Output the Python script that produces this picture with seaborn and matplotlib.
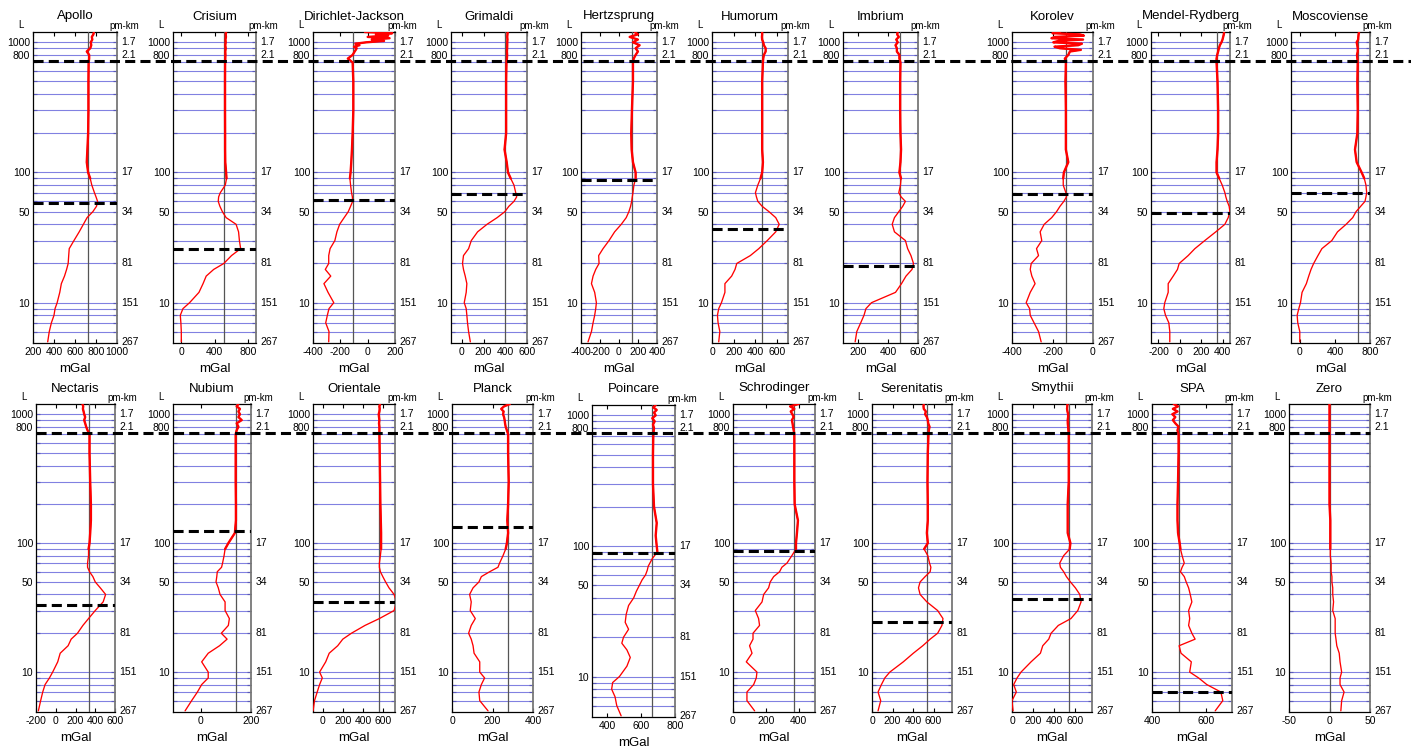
import matplotlib
matplotlib.use("Agg")
import matplotlib.pyplot as plt
import seaborn as sns
from matplotlib.lines import Line2D
from matplotlib.ticker import FixedLocator, NullFormatter, FixedFormatter
from matplotlib.transforms import blended_transform_factory

# ---------------------------------------------------------------- data
# spherical-harmonic degree at which every profile is sampled
degree = [5, 6, 7, 8, 9, 10, 12, 14, 16, 18, 20, 23, 26, 30, 35, 40, 45, 50, 55, 60, 65, 70,
          80, 90, 100, 120, 150, 200, 300, 500, 700, 750, 800, 850, 900, 950, 1000, 1050,
          1100, 1150, 1200]

apollo = [340, 355, 375, 400, 410, 430, 455, 470, 500, 520, 535, 540, 545, 590, 640, 680, 715,
          770, 805, 815, 800, 785, 760, 745, 725, 712, 718, 725, 728, 728, 730, 735, 735, 712,
          745, 755, 750, 765, 760, 775, 780]
crisium = [0, 0, -5, -12, 20, 100, 213, 262, 300, 390, 512, 605, 715, 700, 690, 660, 540, 495,
           465, 445, 450, 470, 530, 545, 540, 530, 528, 528, 527, 527, 528, 530, 532, 530, 535,
           530, 535, 532, 538, 535, 540]
dirichlet_jackson = [-285, -283, -307, -295, -283, -248, -290, -320, -270, -310, -285, -285,
                     -275, -240, -225, -205, -172, -142, -125, -110, -112, -118, -125, -130,
                     -125, -120, -115, -110, -105, -105, -110, -145, -110, -95, -80, -60, -10,
                     30, 0, 60, -20]
grimaldi = [78, 62, 52, 46, 40, 22, 40, 46, 31, 15, 6, 15, 62, 87, 145, 232, 325, 396, 433, 480,
            505, 496, 480, 450, 425, 413, 393, 408, 408, 408, 411, 415, 417, 415, 417, 418, 418,
            420, 418, 420, 422]
hertzsprung = [-326, -290, -273, -256, -245, -238, -256, -290, -273, -245, -210, -214, -168,
               -105, -46, 24, 76, 104, 122, 133, 140, 147, 157, 175, 175, 147, 133, 129, 136,
               147, 147, 155, 175, 199, 175, 217, 147, 199, 112, 199, 164]
humorum = [62, 72, 56, 50, 62, 87, 119, 119, 181, 212, 228, 353, 431, 509, 587, 619, 587, 525,
           462, 422, 409, 400, 422, 447, 462, 469, 462, 462, 462, 462, 469, 472, 478, 494, 494,
           478, 472, 462, 460, 462, 462]
imbrium = [181, 192, 218, 240, 253, 290, 450, 490, 520, 560, 570, 553, 531, 516, 443, 428, 443,
           472, 498, 516, 487, 472, 483, 487, 476, 483, 487, 483, 481, 481, 483, 476, 476, 459,
           459, 450, 465, 455, 472, 461, 465]
korolev = [-256, -269, -291, -310, -313, -330, -310, -286, -302, -310, -305, -269, -279, -253,
           -261, -241, -204, -180, -163, -144, -131, -134, -147, -147, -144, -122, -134, -134,
           -134, -136, -134, -139, -122, -114, -163, -73, -196, -49, -188, -65, -163]
mendel_rydberg = [-94, -94, -103, -134, -150, -141, -109, -109, -62, -22, -6, 78, 141, 234, 337,
                  422, 453, 469, 462, 444, 431, 422, 397, 369, 344, 344, 353, 359, 359, 353, 344,
                  344, 350, 359, 366, 375, 390, 400, 406, 412, 415]
moscoviense = [0, 0, -23, -30, -11, 8, 26, 75, 102, 128, 158, 207, 252, 365, 430, 528, 603, 641,
               694, 743, 754, 762, 754, 735, 705, 648, 629, 656, 660, 656, 660, 656, 652, 660,
               660, 655, 648, 665, 667, 670, 675]
nectaris = [-176, -153, -132, -108, -64, -31, 20, 45, 125, 156, 220, 275, 332, 400, 480, 505,
            451, 400, 376, 342, 322, 322, 332, 332, 342, 349, 356, 356, 349, 342, 342, 322, 308,
            298, 288, 298, 288, 282, 275, 278, 271]
nubium = [-62, -36, -13, 4, 30, 30, 4, 30, 75, 105, 82, 110, 114, 97, 97, 77, 70, 61, 64, 66,
          83, 87, 93, 97, 110, 136, 140, 140, 139, 139, 139, 143, 150, 143, 163, 150, 156, 150,
          156, 143, 150]
orientale = [-99, -85, -58, -34, -7, -34, 27, 62, 147, 198, 284, 420, 564, 711, 735, 711, 660,
             626, 598, 574, 564, 564, 574, 581, 581, 581, 578, 574, 571, 567, 564, 564, 564, 560,
             564, 560, 557, 564, 567, 564, 571]
planck = [178, 137, 133, 145, 161, 137, 137, 109, 104, 95, 82, 95, 115, 90, 95, 87, 104, 133,
          145, 186, 227, 235, 252, 265, 271, 277, 273, 277, 280, 277, 277, 271, 265, 262, 260,
          257, 252, 255, 243, 257, 286]
poincare = [482, 456, 446, 426, 432, 472, 516, 536, 516, 486, 496, 526, 506, 512, 526, 556, 572,
            590, 606, 626, 636, 642, 666, 696, 692, 686, 692, 676, 670, 670, 672, 674, 676, 670,
            680, 666, 686, 676, 692, 672, 686]
schrodinger = [132, 85, 85, 126, 142, 146, 81, 116, 101, 122, 122, 162, 156, 136, 177, 187, 217,
               227, 248, 284, 298, 329, 359, 384, 384, 390, 396, 376, 374, 374, 374, 370, 366,
               363, 359, 370, 362, 352, 374, 348, 400]
serenitatis = [59, 85, 59, 92, 125, 174, 305, 403, 495, 567, 640, 682, 692, 640, 535, 469, 453,
               469, 518, 567, 574, 561, 544, 508, 544, 535, 544, 544, 541, 544, 551, 554, 561,
               548, 544, 535, 518, 525, 505, 502, 505]
smythii = [10, 0, 41, 16, 48, 86, 181, 270, 292, 349, 371, 440, 560, 625, 656, 644, 602, 555,
           517, 491, 460, 453, 491, 548, 555, 529, 529, 529, 539, 539, 539, 536, 533, 530, 529,
           533, 533, 527, 523, 525, 527]
spa = [633, 661, 654, 602, 572, 539, 545, 507, 500, 559, 547, 535, 539, 535, 547, 541, 535, 526,
       519, 505, 511, 519, 511, 505, 502, 496, 494, 494, 496, 498, 498, 494, 498, 486, 477, 486,
       475, 494, 477, 496, 480]
zero = [14, 15, 18, 13, 13, 15, 13, 12, 9, 8, 7, 7, 7, 4, 5, 4, 4, 3, 3, 2, 2, 2, 1, 1, 1, 1, 1,
        0, 0, 0, 0, 0, 0, 0, 0, 0, 0, 0, 0, 0, 0]

# additional high-degree samples for the two noisiest profiles
korolev_hi_degree = [875, 925, 975, 1025, 1075, 1125, 1175]
korolev_hi = [-60, -190, -55, -170, -205, -45, -200]
dirichlet_hi_degree = [925, 975, 1025, 1075, 1125, 1175]
dirichlet_hi = [-100, -90, 120, 160, 150, 180]

basins = ["Apollo", "Crisium", "Dirichlet-Jackson", "Grimaldi", "Hertzsprung", "Humorum",
          "Imbrium", "Korolev", "Mendel-Rydberg", "Moscoviense", "Nectaris", "Nubium",
          "Orientale", "Planck", "Poincare", "Schrodinger", "Serenitatis", "Smythii", "SPA",
          "Zero"]
profiles = [apollo, crisium, dirichlet_jackson, grimaldi, hertzsprung, humorum, imbrium,
            korolev, mendel_rydberg, moscoviense, nectaris, nubium, orientale, planck, poincare,
            schrodinger, serenitatis, smythii, spa, zero]
extra_samples = {"Korolev": (korolev_hi_degree, korolev_hi),
                 "Dirichlet-Jackson": (dirichlet_hi_degree, dirichlet_hi)}

# reference level (vertical line) and basin-specific cut degree (dashed line)
mean_level = [725, 510, -110, 400, 140, 465, 483, -135, 350, 665, 340, 140, 560, 275, 665, 370,
              535, 540, 498, 0]
cut_degree = [58, 26, 61, 68, 88, 37, 19, 68, 49, 70, 33, 124, 35, 134, 88, 87, 24.5, 37, 7,
              None]
shared_cut = 715

x_limits = [(200, 1000), (-100, 900), (-400, 200), (-100, 600), (-400, 400), (0, 700),
            (100, 600), (-400, 0), (-270, 470), (-100, 800), (-200, 600), (-110, 200),
            (-100, 720), (0, 400), (310, 800), (0, 500), (0, 780), (0, 760), (400, 695),
            (-50, 50)]
x_ticks = [[200, 400, 600, 800, 1000], [0, 400, 800], [-400, -200, 0, 200], [0, 200, 400, 600],
           [-400, -200, 0, 200, 400], [0, 200, 400, 600], [200, 400, 600], [-400, -200, 0],
           [-200, 0, 200, 400], [0, 400, 800], [-200, 0, 200, 400, 600], [0, 200],
           [0, 200, 400, 600], [0, 200, 400], [400, 600, 800], [0, 200, 400],
           [0, 200, 400, 600], [0, 200, 400, 600], [400, 600], [-50, 0, 50]]

# degree axis: labelled degrees, grid degrees and the matching half-wavelength labels
left_ticks = [10, 50, 100, 800, 1000]
grid_degrees = [6, 7, 8, 9, 10, 20, 30, 40, 50, 60, 70, 80, 90, 100, 200, 300, 400, 500, 600,
                700, 800, 900, 1000]
km_degrees = [1000, 800, 100, 50, 20, 10, 5]
km_labels = ["1.7", "2.1", "17", "34", "81", "151", "267"]

# ---------------------------------------------------------------- layout (pixels: left, right, top, bottom)
W, H = 1411, 746
boxes = [(33, 117, 32, 343), (173, 256, 32, 343), (313, 395, 32, 343), (451, 527, 32, 343),
         (581, 657, 32, 343), (712, 788, 32, 343), (843, 918, 32, 343), (1012, 1093, 32, 343),
         (1151, 1230, 32, 343), (1291, 1370, 32, 343),
         (36, 115, 404, 712), (173, 251, 404, 712), (313, 395, 404, 712), (452, 533, 404, 712),
         (592, 675, 405, 717), (733, 815, 404, 712), (872, 952, 404, 712), (1012, 1092, 404, 712),
         (1152, 1232, 404, 712), (1289, 1370, 404, 712)]

sns.set_theme(style="white")
plt.rcParams.update({
    "font.family": ["Liberation Sans", "DejaVu Sans"],
    "axes.unicode_minus": False,
    "axes.edgecolor": "black",
    "text.color": "black",
    "axes.labelcolor": "black",
    "xtick.color": "black",
    "ytick.color": "black",
})

fig = plt.figure(figsize=(W / 100, H / 100), dpi=100)
axes = []
dash = (0, (3.3, 1.7))

for i, name in enumerate(basins):
    l, r, t, b = boxes[i]
    ax = fig.add_axes([l / W, 1 - b / H, (r - l) / W, (b - t) / H])
    axes.append(ax)

    deg = list(degree)
    val = list(profiles[i])
    if name in extra_samples:
        ed, ev = extra_samples[name]
        pairs = sorted(zip(deg + ed, val + ev))
        deg = [p[0] for p in pairs]
        val = [p[1] for p in pairs]

    # thin trace over the whole range, heavier trace where the spectrum is dense
    sns.lineplot(x=val, y=deg, sort=False, estimator=None, color="red", lw=0.95,
                 ax=ax, zorder=4)
    hi = [k for k, d in enumerate(deg) if d >= 90]
    sns.lineplot(x=[val[k] for k in hi], y=[deg[k] for k in hi], sort=False, estimator=None,
                 color="red", lw=1.7, ax=ax, zorder=4)

    ax.set_yscale("log")
    ax.set_ylim(4.9, 1200)
    ax.set_xlim(*x_limits[i])
    ax.set_xticks(x_ticks[i])
    ax.set_xticklabels([str(v) for v in x_ticks[i]])

    ax.yaxis.set_major_locator(FixedLocator(left_ticks))
    ax.yaxis.set_major_formatter(FixedFormatter([str(v) for v in left_ticks]))
    ax.yaxis.set_minor_locator(FixedLocator(grid_degrees))
    ax.yaxis.set_minor_formatter(NullFormatter())
    ax.grid(False)
    for g in grid_degrees:
        ax.axhline(g, color="#6b6bdc", lw=0.8, alpha=0.85, zorder=1)

    ax.tick_params(axis="y", which="both", direction="in", left=True, right=True,
                   length=3, width=0.8, labelsize=7.5, pad=2)
    ax.tick_params(axis="x", which="both", direction="in", bottom=True, top=True,
                   length=3, width=0.8, labelsize=7.5, pad=3)

    for side in ["left", "top", "bottom"]:
        ax.spines[side].set_color("black")
        ax.spines[side].set_linewidth(0.9)
    ax.spines["right"].set_color("#777777")
    ax.spines["right"].set_linewidth(1.3)

    ax.axvline(mean_level[i], color="#555555", lw=0.9, zorder=3)
    if cut_degree[i] is not None:
        ax.axhline(cut_degree[i], color="black", lw=2.2, ls=dash, zorder=5)

    ytr = ax.get_yaxis_transform()
    for d, lab in zip(km_degrees, km_labels):
        ax.annotate(lab, xy=(1, d), xycoords=ytr, xytext=(3, 0), textcoords="offset points",
                    ha="left", va="center", fontsize=7.5)
    ax.annotate("L", xy=(0, 1), xycoords="axes fraction", xytext=(-9, 1.5),
                textcoords="offset points", ha="center", va="bottom", fontsize=7)
    ax.annotate("pm-km", xy=(1, 1), xycoords="axes fraction", xytext=(5, 0.5),
                textcoords="offset points", ha="center", va="bottom", fontsize=7)

    ax.set_title(name, fontsize=9.5, pad=9)
    ax.set_xlabel("mGal", fontsize=9.5, labelpad=4)
    ax.set_ylabel("")

# shared cut degree running across each row of panels
for first, x0, x1 in [(axes[0], 33, 1411), (axes[10], 36, 1370)]:
    tr = blended_transform_factory(fig.transFigure, first.transData)
    fig.add_artist(Line2D([x0 / W, x1 / W], [shared_cut, shared_cut], transform=tr,
                          color="black", lw=2.2, ls=dash, zorder=6))

fig.savefig("out.png", dpi=100)
